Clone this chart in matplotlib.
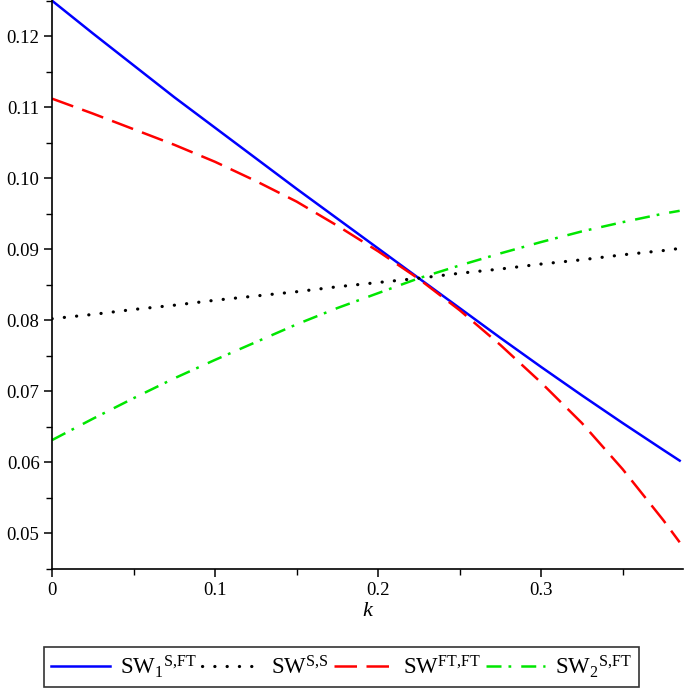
import matplotlib
matplotlib.use("Agg")
import matplotlib.pyplot as plt
from matplotlib.ticker import MultipleLocator, FixedLocator

plt.rcParams['font.family'] = ['Liberation Serif', 'DejaVu Serif']
plt.rcParams['mathtext.fontset'] = 'custom'
plt.rcParams['mathtext.rm'] = 'Liberation Serif'
plt.rcParams['mathtext.it'] = 'Liberation Serif:italic'

k = [0.0, 0.025, 0.05, 0.075, 0.1, 0.125, 0.15, 0.175, 0.2, 0.225,
     0.25, 0.275, 0.3, 0.325, 0.35, 0.375, 0.385]
sw1_sft = [0.1250, 0.1204, 0.1159, 0.1114, 0.1071, 0.1028, 0.0985, 0.0943, 0.0901, 0.0859,
           0.0817, 0.0775, 0.0734, 0.0694, 0.0655, 0.0617, 0.0602]
sw_ss = [0.0802, 0.0808, 0.0815, 0.0821, 0.0828, 0.0834, 0.0840, 0.0847, 0.0853, 0.0859,
         0.0866, 0.0872, 0.0879, 0.0885, 0.0892, 0.0898, 0.0901]
sw_ftft = [0.1112, 0.1091, 0.1069, 0.1047, 0.1023, 0.0996, 0.0967, 0.0933, 0.0897, 0.0858,
           0.0814, 0.0765, 0.0712, 0.0655, 0.0590, 0.0518, 0.0487]
sw2_sft = [0.0631, 0.0661, 0.0690, 0.0718, 0.0744, 0.0769, 0.0794, 0.0817, 0.0838, 0.0859,
           0.0877, 0.0894, 0.0910, 0.0925, 0.0938, 0.0950, 0.0954]

labels = [r'SW$_1$$^{\mathrm{S{,}FT}}$', r'SW$^{\mathrm{S{,}S}}$',
          r'SW$^{\mathrm{FT{,}FT}}$', r'SW$_2$$^{\mathrm{S{,}FT}}$']

x_ticks = [0, 0.1, 0.2, 0.3]
x_tick_labels = ['0', '0.1', '0.2', '0.3']
y_ticks = [0.05, 0.06, 0.07, 0.08, 0.09, 0.10, 0.11, 0.12]
y_tick_labels = ['0.05', '0.06', '0.07', '0.08', '0.09', '0.10', '0.11', '0.12']

fig = plt.figure(figsize=(6.85, 6.9), dpi=100)
ax = fig.add_axes([0.076, 0.175, 0.921, 0.825])

lw = 1.8
ax.plot(k, sw1_sft, color='#0000ff', lw=lw, label=labels[0])
ax.plot(k, sw_ss, color='black', lw=2.3, linestyle=(0, (0.05, 3.8)),
        dash_capstyle='round', label=labels[1])
ax.plot(k, sw_ftft, color='#ff0000', lw=lw, linestyle=(0, (9.0, 3.8)), label=labels[2])
ax.plot(k, sw2_sft, color='#00e600', lw=lw, linestyle=(0, (6.0, 2.8, 1.1, 4.0)), label=labels[3])

ax.set_xlim(0, 0.387)
ax.set_ylim(0.0449, 0.1251)
ax.spines['top'].set_visible(False)
ax.spines['right'].set_visible(False)
ax.spines['left'].set_linewidth(1.2)
ax.spines['bottom'].set_linewidth(1.2)

ax.xaxis.set_major_locator(FixedLocator(x_ticks))
ax.set_xticklabels(x_tick_labels)
ax.xaxis.set_minor_locator(MultipleLocator(0.05))
ax.yaxis.set_major_locator(FixedLocator(y_ticks))
ax.set_yticklabels(y_tick_labels)
ax.yaxis.set_minor_locator(MultipleLocator(0.005))
ax.tick_params(which='major', length=6, width=1.1, labelsize=13.5, direction='out', pad=3)
ax.tick_params(which='minor', length=4, width=1.0, direction='out')

ax.set_xlabel('k', fontsize=16, fontstyle='italic', labelpad=2)

leg = fig.legend(loc='lower center', bbox_to_anchor=(341.5 / 685, 3 / 690), ncol=4,
                 fontsize=16.5, frameon=True, fancybox=False, edgecolor='black',
                 handlelength=2.55, handletextpad=0.45, columnspacing=0.25,
                 borderpad=0.3, borderaxespad=0)
leg.get_frame().set_linewidth(1.2)

fig.savefig('out.png', dpi=100)
